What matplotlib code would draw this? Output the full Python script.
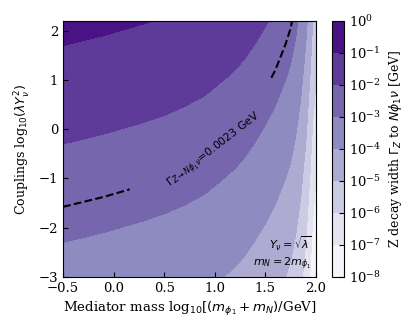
import numpy as np
import matplotlib
matplotlib.use("Agg")
from matplotlib import pyplot as plt

plt.rcParams['font.family'] = 'DejaVu Serif'
plt.rcParams['mathtext.fontset'] = 'dejavusans'
plt.rcParams['font.size'] = 9

# mediator mass log10(M/GeV) and log10 of width at unit coupling
mass_pts = [-0.5, -0.3, -0.1, 0.1, 0.3, 0.5, 0.7, 0.9, 1.1, 1.2, 1.3, 1.4,
            1.5, 1.6, 1.7, 1.75, 1.8, 1.85, 1.9, 1.94, 1.97, 2.0]
width_at_unit_coupling = [-1.85, -1.90, -1.95, -2.01, -2.07, -2.14, -2.23, -2.34,
                          -2.51, -2.60, -2.72, -2.87, -3.04, -3.24, -3.50, -3.66,
                          -3.92, -4.30, -4.85, -5.50, -6.10, -6.45]
coupling_pts = [-3.0, 2.2]
coupling_power = 0.5  # one decade in width per two decades in coupling

log_levels = [-8, -7, -6, -5, -4, -3, -2, -1, 0]
ref_width = 0.0023

x = np.array(mass_pts)
y = np.array(coupling_pts)
logw = coupling_power * y[:, None] + np.array(width_at_unit_coupling)[None, :]

fig = plt.figure(figsize=(4.15, 3.32), dpi=100)
ax = fig.add_axes([0.152, 0.166, 0.609, 0.771])
cax = fig.add_axes([0.800, 0.166, 0.029, 0.771])

cf = ax.contourf(x, y, logw, levels=log_levels, cmap='Purples')
ref = np.log10(ref_width)
cs = ax.contour(x, y, logw, levels=[ref], colors='k',
                linestyles='--', linewidths=1.5)
ax.clabel(cs, fmt={ref: r'$\Gamma_{Z\to N\phi_1\nu}$=0.0023 GeV'},
          manual=[(0.98, -0.4)], inline=True, inline_spacing=36, fontsize=7.8)
for t in cs.labelTexts:
    t.set_family('DejaVu Sans')

ax.text(0.985, 0.02, '$Y_\\nu=\\sqrt{\\lambda}$\n$m_N=2m_{\\phi_1}$',
        transform=ax.transAxes, ha='right', va='bottom', fontsize=8,
        family='DejaVu Sans')

ax.set_xlim(-0.5, 2.0)
ax.set_ylim(-3, 2.2)
ax.set_xticks([-0.5, 0.0, 0.5, 1.0, 1.5, 2.0])
ax.set_yticks([-3, -2, -1, 0, 1, 2])
ax.tick_params(direction='in', labelsize=9.5)
ax.set_xlabel(r'Mediator mass log$_{10}$[$(m_{\phi_1}+m_N)$/GeV]', fontsize=9.6)
ax.set_ylabel(r'Couplings log$_{10}(\lambda Y_\nu^2)$')

cb = fig.colorbar(cf, cax=cax)
cb.set_ticks(log_levels)
cb.set_ticklabels([r'$\mathdefault{10^{%d}}$' % k for k in log_levels])
cb.ax.tick_params(direction='in', labelsize=9.5)
cb.set_label(r'Z decay width $\Gamma_Z$ to $N\phi_1\nu$ [GeV]')

fig.savefig('out.png', dpi=100)
